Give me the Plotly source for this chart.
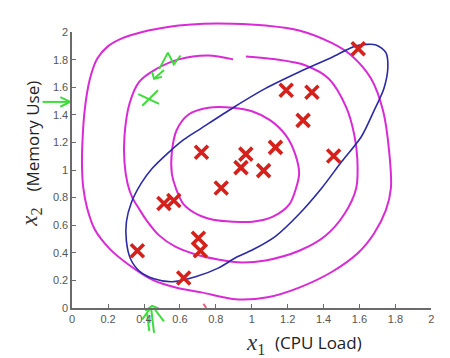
import plotly.graph_objects as go

# ---- data (x1 = CPU load, x2 = memory use) ----
pts_x = [0.363, 0.511, 0.566, 0.621, 0.703, 0.714, 0.720, 0.830, 0.940, 0.967,
         1.066, 1.132, 1.192, 1.335, 1.286, 1.456, 1.593]
pts_y = [0.414, 0.758, 0.779, 0.217, 0.505, 0.414, 1.130, 0.870, 1.018, 1.116,
         0.996, 1.165, 1.579, 1.565, 1.361, 1.102, 1.881]

outer_x = [1.077, 0.896, 0.731, 0.593, 0.484, 0.39, 0.28, 0.2, 0.14, 0.099, 0.071, 0.057,
           0.055, 0.062, 0.082, 0.126, 0.209, 0.319, 0.445, 0.577, 0.72, 0.907, 1.088, 1.264,
           1.445, 1.593, 1.681, 1.747, 1.775, 1.764, 1.731, 1.665, 1.555, 1.445, 1.264, 1.077]
outer_y = [2.049, 2.063, 2.063, 2.049, 2.028, 2.003, 1.958, 1.9, 1.81, 1.663, 1.45, 1.2,
           1.011, 0.87, 0.73, 0.568, 0.428, 0.309, 0.204, 0.147, 0.112, 0.063, 0.077, 0.147,
           0.26, 0.4, 0.54, 0.709, 0.87, 1.151, 1.432, 1.663, 1.832, 1.923, 2.014, 2.049]

middle_x = [0.896, 0.758, 0.593, 0.467, 0.374, 0.319, 0.291, 0.291, 0.308, 0.335, 0.374, 0.412,
            0.484, 0.577, 0.676, 0.813, 0.923, 1.077, 1.264, 1.407, 1.516, 1.582, 1.588, 1.571,
            1.527, 1.429, 1.297, 1.132, 0.967]
middle_y = [1.804, 1.832, 1.804, 1.733, 1.642, 1.481, 1.242, 1.06, 0.905, 0.8, 0.716, 0.639,
            0.526, 0.442, 0.393, 0.351, 0.33, 0.344, 0.414, 0.519, 0.681, 0.87, 1.081, 1.256,
            1.453, 1.663, 1.761, 1.804, 1.825]

inner_x = [0.896, 0.758, 0.648, 0.582, 0.555, 0.555, 0.577, 0.621, 0.703, 0.786, 0.896, 1.005,
           1.115, 1.209, 1.247, 1.264, 1.242, 1.192, 1.104, 1.005, 0.896]
inner_y = [1.453, 1.453, 1.404, 1.291, 1.13, 0.975, 0.87, 0.751, 0.674, 0.639, 0.625, 0.625,
           0.66, 0.751, 0.87, 0.975, 1.116, 1.249, 1.361, 1.425, 1.453]

ellipse_x = [1.692, 1.582, 1.445, 1.264, 1.077, 0.896, 0.72, 0.621, 0.527, 0.445, 0.385, 0.33,
             0.302, 0.302, 0.324, 0.374, 0.456, 0.555, 0.687, 0.813, 0.912, 1.005, 1.132, 1.264,
             1.39, 1.5, 1.61, 1.681, 1.736, 1.758, 1.747, 1.692]
ellipse_y = [1.909, 1.902, 1.818, 1.712, 1.593, 1.453, 1.305, 1.221, 1.116, 1.011, 0.905, 0.765,
             0.625, 0.484, 0.358, 0.267, 0.211, 0.189, 0.225, 0.288, 0.365, 0.421, 0.519, 0.681,
             0.87, 1.06, 1.242, 1.432, 1.593, 1.747, 1.853, 1.909]

# hand-drawn green marks (strokes separated by None)
green_x = [-0.165, -0.011, None, -0.066, -0.011, -0.066, None,
           0.484, 0.533, 0.566, 0.604, None,
           0.511, 0.456, None, 0.445, 0.456, 0.5, None,
           0.368, 0.484, None, 0.39, 0.478, None,
           0.44, 0.456, None, 0.418, 0.429, None, 0.462, 0.511, None,
           0.407, 0.445, 0.484, None, 0.39, 0.429]
green_y = [1.495, 1.495, None, 1.53, 1.495, 1.46, None,
           1.733, 1.853, 1.768, 1.832, None,
           1.726, 1.663, None, 1.712, 1.663, 1.677, None,
           1.551, 1.481, None, 1.467, 1.579, None,
           -0.007, -0.182, None, -0.042, -0.168, None, -0.014, -0.098, None,
           -0.021, 0.014, -0.007, None, -0.084, -0.014]

pink_x = [0.731, 0.747]
pink_y = [0.028, 0.0]

xticks = [0, 0.2, 0.4, 0.6, 0.8, 1, 1.2, 1.4, 1.6, 1.8, 2]
yticks = [0, 0.2, 0.4, 0.6, 0.8, 1, 1.2, 1.4, 1.6, 1.8, 2]

W, H = 450, 358
xdom = [62 / W, 426 / W]
ydom = [(H - 304) / H, (H - 19) / H]
xr = [0, 2]
yr = [0, 2]
# full-figure overlay axes (x / y) with the same data mapping as the main axes (x2 / y2)
sx = (xr[1] - xr[0]) / (xdom[1] - xdom[0])
sy = (yr[1] - yr[0]) / (ydom[1] - ydom[0])
xr_full = [xr[0] - xdom[0] * sx, xr[1] + (1 - xdom[1]) * sx]
yr_full = [yr[0] - ydom[0] * sy, yr[1] + (1 - ydom[1]) * sy]

MAG = "#d92ad6"
BLUE = "#2b2aa6"
GREEN = "#3ddc3a"

fig = go.Figure()
for cx, cy in [(outer_x, outer_y), (middle_x, middle_y), (inner_x, inner_y)]:
    fig.add_trace(go.Scatter(x=cx, y=cy, mode="lines", xaxis="x", yaxis="y",
                             line=dict(color=MAG, width=2, shape="spline", smoothing=0.9),
                             hoverinfo="skip"))
fig.add_trace(go.Scatter(x=ellipse_x, y=ellipse_y, mode="lines", xaxis="x", yaxis="y",
                         line=dict(color=BLUE, width=1.6, shape="spline", smoothing=0.8),
                         hoverinfo="skip"))
fig.add_trace(go.Scatter(x=green_x, y=green_y, mode="lines", xaxis="x", yaxis="y",
                         line=dict(color=GREEN, width=2), connectgaps=False, hoverinfo="skip"))
fig.add_trace(go.Scatter(x=pink_x, y=pink_y, mode="lines", xaxis="x", yaxis="y",
                         line=dict(color="#e86080", width=2), hoverinfo="skip"))
# data points on the visible (main) axes, drawn on top
fig.add_trace(go.Scatter(x=pts_x, y=pts_y, mode="markers", xaxis="x2", yaxis="y2",
                         cliponaxis=False,
                         marker=dict(symbol="x-thin", size=13,
                                     line=dict(color="#d4211b", width=3.6)),
                         hoverinfo="skip"))

axis_common = dict(showline=True, linecolor="#6a6a6a", linewidth=1.5, ticks="inside",
                   ticklen=4, tickcolor="#6a6a6a", showgrid=False, zeroline=False,
                   tickfont=dict(family="Liberation Sans", size=11, color="#555555"))

SERIF = dict(family="Liberation Serif", size=23, color="#333333")
SANS = dict(family="Open Sans", size=17, color="#222222")

fig.update_layout(
    width=W, height=H, margin=dict(l=0, r=0, t=0, b=0),
    paper_bgcolor="white", plot_bgcolor="rgba(0,0,0,0)", showlegend=False,
    xaxis=dict(domain=[0, 1], range=xr_full, anchor="y", visible=False),
    yaxis=dict(domain=[0, 1], range=yr_full, anchor="x", visible=False),
    xaxis2=dict(domain=xdom, range=xr, tickvals=xticks, anchor="y2", **axis_common),
    yaxis2=dict(domain=ydom, range=yr, tickvals=yticks, anchor="x2", **axis_common),
    annotations=[
        dict(text="<i>x</i><sub>1</sub>", xref="paper", yref="paper",
             x=248 / W, y=(H - 341) / H, showarrow=False, font=SERIF,
             xanchor="center", yanchor="middle"),
        dict(text="(CPU Load)", xref="paper", yref="paper",
             x=312 / W, y=(H - 340) / H, showarrow=False, font=SANS,
             xanchor="center", yanchor="middle"),
        dict(text="<i>x</i><sub>2</sub>", xref="paper", yref="paper",
             x=20 / W, y=(H - 210) / H, showarrow=False, font=SERIF, textangle=-90,
             xanchor="center", yanchor="middle"),
        dict(text="(Memory Use)", xref="paper", yref="paper",
             x=22 / W, y=(H - 126) / H, showarrow=False, font=SANS, textangle=-90,
             xanchor="center", yanchor="middle"),
    ],
)

fig.write_html("out.html")
